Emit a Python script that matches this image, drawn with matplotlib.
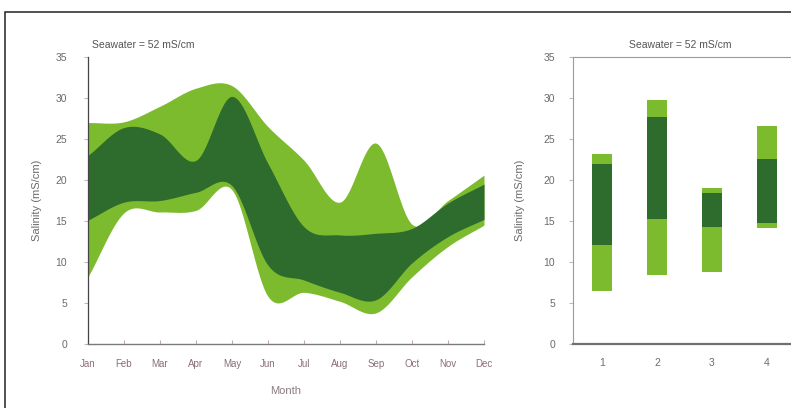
import numpy as np
import matplotlib.pyplot as plt
from matplotlib.patches import Rectangle

plt.rcParams['font.family'] = ['Liberation Sans', 'DejaVu Sans']

# Left panel: monthly salinity envelope (mS/cm)
months = ['Jan', 'Feb', 'Mar', 'Apr', 'May', 'Jun', 'Jul', 'Aug', 'Sep', 'Oct', 'Nov', 'Dec']
outer_top = [27.0, 27.1, 29.0, 31.2, 31.5, 26.5, 22.4, 17.3, 24.5, 14.6, 17.5, 20.6]
inner_top = [23.0, 26.4, 25.6, 22.4, 30.2, 22.0, 14.3, 13.3, 13.5, 14.1, 17.2, 19.5]
inner_bot = [15.1, 17.3, 17.5, 18.5, 19.3, 9.6, 7.8, 6.3, 5.4, 9.9, 13.1, 15.2]
outer_bot = [8.2, 16.0, 16.1, 16.3, 18.8, 5.8, 6.3, 5.2, 3.8, 8.2, 11.9, 14.5]

# Right panel: four sites, light/dark stacked ranges
sites = [1, 2, 3, 4]
range_low = [6.5, 8.4, 8.8, 14.1]
core_low = [12.1, 15.2, 14.3, 14.7]
core_high = [22.0, 27.7, 18.4, 22.6]
range_high = [23.2, 29.8, 19.0, 26.6]

light = '#7dbb2e'
dark = '#2e6c2e'
grey = '#6b6b6b'


def smooth(x, y, n=30):
    # Catmull-Rom through the read points, only for drawing
    x = np.asarray(x, float)
    y = np.asarray(y, float)
    xp = np.concatenate([[2 * x[0] - x[1]], x, [2 * x[-1] - x[-2]]])
    yp = np.concatenate([[2 * y[0] - y[1]], y, [2 * y[-1] - y[-2]]])
    xs, ys = [], []
    t = np.linspace(0, 1, n, endpoint=False)
    for i in range(1, len(xp) - 2):
        p0, p1, p2, p3 = yp[i - 1], yp[i], yp[i + 1], yp[i + 2]
        seg = 0.5 * (2 * p1 + (-p0 + p2) * t + (2 * p0 - 5 * p1 + 4 * p2 - p3) * t ** 2
                     + (-p0 + 3 * p1 - 3 * p2 + p3) * t ** 3)
        xs.append(xp[i] + (xp[i + 1] - xp[i]) * t)
        ys.append(seg)
    xs.append([x[-1]])
    ys.append([y[-1]])
    return np.concatenate(xs), np.concatenate(ys)


fig = plt.figure(figsize=(7.91, 4.08), dpi=100)

# outer frame
fig.patches.append(Rectangle((5 / 791, -0.05), 1.0, 1 - 12 / 408 + 0.05,
                             transform=fig.transFigure, fill=False,
                             edgecolor='#222222', linewidth=1.1))

ax1 = fig.add_axes([88 / 791, 64 / 408, 396 / 791, 287 / 408])
x = np.arange(1, 13)
xs, ot = smooth(x, outer_top)
_, it = smooth(x, inner_top)
_, ib = smooth(x, inner_bot)
_, ob = smooth(x, outer_bot)
ax1.fill_between(xs, ob, ot, color=light, linewidth=0)
ax1.fill_between(xs, ib, it, color=dark, linewidth=0)

ax1.set_xlim(1, 12)
ax1.set_ylim(0, 35)
ax1.set_xticks(x)
ax1.set_xticklabels(months, fontsize=7, color='#8a6f74')
ax1.set_yticks(range(0, 36, 5))
ax1.set_yticklabels([str(v) for v in range(0, 36, 5)], fontsize=7.5, color=grey)
ax1.tick_params(axis='y', length=3, color='#bbbbbb', pad=12)
ax1.tick_params(axis='x', length=3, color='#c9a9ae', direction='in', pad=11)
for s in ['top', 'right']:
    ax1.spines[s].set_visible(False)
ax1.spines['left'].set_color('#444444')
ax1.spines['left'].set_linewidth(0.9)
ax1.spines['bottom'].set_color('#7a7a7a')
ax1.spines['bottom'].set_linewidth(1.0)
ax1.set_xlabel('Month', fontsize=8, color='#8a7a7c', labelpad=12)
ax1.set_ylabel('Salinity (mS/cm)', fontsize=8, color=grey, labelpad=10)
ax1.text(92 / 791, 363 / 408, 'Seawater = 52 mS/cm', transform=fig.transFigure,
         fontsize=7.5, color='#555555', ha='left', va='center')

ax2 = fig.add_axes([573 / 791, 64 / 408, 223 / 791, 287 / 408])
w = 0.36
for s, a, b, c, d in zip(sites, range_low, core_low, core_high, range_high):
    ax2.bar(s, b - a, bottom=a, width=w, color=light, linewidth=0)
    ax2.bar(s, c - b, bottom=b, width=w, color=dark, linewidth=0)
    ax2.bar(s, d - c, bottom=c, width=w, color=light, linewidth=0)
ax2.set_xlim(0.47, 4.53)
ax2.set_ylim(0, 35)
ax2.set_xticks(sites)
ax2.set_xticklabels([str(s) for s in sites], fontsize=7.5, color=grey)
ax2.set_yticks(range(0, 36, 5))
ax2.set_yticklabels([str(v) for v in range(0, 36, 5)], fontsize=7.5, color=grey)
ax2.tick_params(axis='y', length=3, color='#bbbbbb', pad=10)
ax2.tick_params(axis='x', length=0, pad=10)
for s in ['top', 'right', 'left']:
    ax2.spines[s].set_color('#9a9a9a')
    ax2.spines[s].set_linewidth(0.8)
ax2.spines['bottom'].set_color('#707070')
ax2.spines['bottom'].set_linewidth(1.6)
ax2.set_ylabel('Salinity (mS/cm)', fontsize=8, color=grey, labelpad=13)
ax2.text(680 / 791, 363 / 408, 'Seawater = 52 mS/cm', transform=fig.transFigure,
         fontsize=7.5, color='#555555', ha='center', va='center')

fig.savefig('out.png', dpi=100)
